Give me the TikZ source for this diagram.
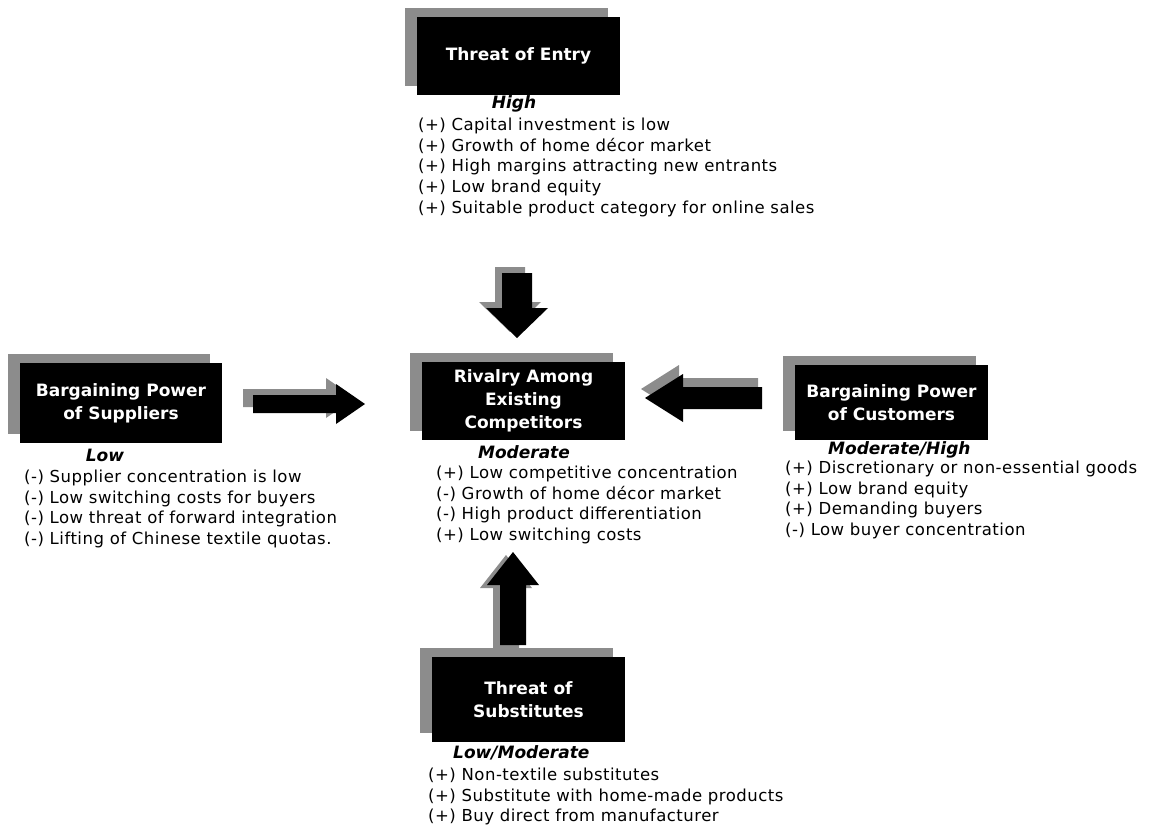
\documentclass[tikz,border=0pt]{standalone}
\usepackage{fontspec}
\setmainfont{DejaVu Sans}
\newfontfamily\listfont[LetterSpace=3]{DejaVu Sans}
\usetikzlibrary{shadows}
\tikzset{
  force/.style={fill=black, text=white, font=\fontsize{17}{23}\selectfont\bfseries,
    align=center, inner sep=0pt,
    general shadow={shadow xshift=-12pt, shadow yshift=9pt, fill=black!45}},
  level/.style={font=\fontsize{17}{20}\selectfont\bfseries\itshape, inner sep=0pt},
  factors/.style={font=\listfont\fontsize{16.5}{20.8}\selectfont, align=left, inner sep=0pt, anchor=north west},
  blockarrow/.style={fill=black},
  arrowshadow/.style={fill=black!45}
}
\begin{document}
\begin{tikzpicture}[x=1pt,y=-1pt]
\useasboundingbox (0,0) rectangle (1168,830);

% boxes
\node[force, minimum width=203pt, minimum height=78pt] (entry) at (518.5,56) {Threat of Entry};
\node[force, minimum width=203pt, minimum height=78pt] (rivalry) at (523.5,401) {Rivalry Among\\Existing\\Competitors};
\node[force, minimum width=202pt, minimum height=80pt] (suppliers) at (121,403) {Bargaining Power\\of Suppliers};
\node[force, minimum width=193pt, minimum height=75pt] (customers) at (891.5,402.5) {Bargaining Power\\of Customers};
\node[force, minimum width=193pt, minimum height=85pt] (substitutes) at (528.5,699.5) {Threat of\\Substitutes};

% levels
\node[level] (lentry) at (514,104) {High};
\node[level] (lriv) at (524,452) {Moderate};
\node[level] (lsup) at (105,455) {Low};
\node[level, anchor=west] (lcus) at (828,450) {Moderate/High};
\node[level, anchor=west] (lsub) at (453,753) {Low/Moderate};

% factor lists
\node[factors] (fentry) at (418,117.5) {(+) Capital investment is low\\(+) Growth of home décor market\\(+) High margins attracting new entrants\\(+) Low brand equity\\(+) Suitable product category for online sales};
\node[factors] (fsup) at (24,469.5) {(-) Supplier concentration is low\\(-) Low switching costs for buyers\\(-) Low threat of forward integration\\(-) Lifting of Chinese textile quotas.};
\node[factors] (friv) at (436,465.5) {(+) Low competitive concentration\\(-) Growth of home décor market\\(-) High product differentiation\\(+) Low switching costs};
\node[factors] (fcus) at (785,460.5) {(+) Discretionary or non-essential goods\\(+) Low brand equity\\(+) Demanding buyers\\(-) Low buyer concentration};
\node[factors] (fsub) at (428,767.5) {(+) Non-textile substitutes\\(+) Substitute with home-made products\\(+) Buy direct from manufacturer};

% block arrows: down (entry -> rivalry)
\coordinate (dtip) at (517,338);
\fill[arrowshadow] ([shift={(-7,-6)}]dtip) -- ++(-31,-30) -- ++(16,0) -- ++(0,-35) -- ++(30,0) -- ++(0,35) -- ++(16,0) -- cycle;
\fill[blockarrow] (dtip) -- ++(-31,-30) -- ++(16,0) -- ++(0,-35) -- ++(30,0) -- ++(0,35) -- ++(16,0) -- cycle;

% right-pointing (suppliers -> rivalry)
\coordinate (rtip) at (365,404);
\fill[arrowshadow] ([shift={(-10,-6)}]rtip) -- ++(-29,-20) -- ++(0,11) -- ++(-83,0) -- ++(0,18) -- ++(83,0) -- ++(0,11) -- cycle;
\fill[blockarrow] (rtip) -- ++(-29,-20) -- ++(0,11) -- ++(-83,0) -- ++(0,18) -- ++(83,0) -- ++(0,11) -- cycle;

% left-pointing (customers -> rivalry)
\coordinate (ltip) at (645,398);
\fill[arrowshadow] ([shift={(-4,-9)}]ltip) -- ++(38,-24) -- ++(0,13) -- ++(79,0) -- ++(0,22) -- ++(-79,0) -- ++(0,13) -- cycle;
\fill[blockarrow] (ltip) -- ++(38,-24) -- ++(0,13) -- ++(79,0) -- ++(0,22) -- ++(-79,0) -- ++(0,13) -- cycle;

% up (substitutes -> rivalry)
\coordinate (utip) at (513,552);
\fill[arrowshadow] ([shift={(-7,3)}]utip) -- ++(-26,33) -- ++(13,0) -- ++(0,60) -- ++(26,0) -- ++(0,-60) -- ++(13,0) -- cycle;
\fill[blockarrow] (utip) -- ++(-26,33) -- ++(13,0) -- ++(0,60) -- ++(26,0) -- ++(0,-60) -- ++(13,0) -- cycle;
\end{tikzpicture}
\end{document}
